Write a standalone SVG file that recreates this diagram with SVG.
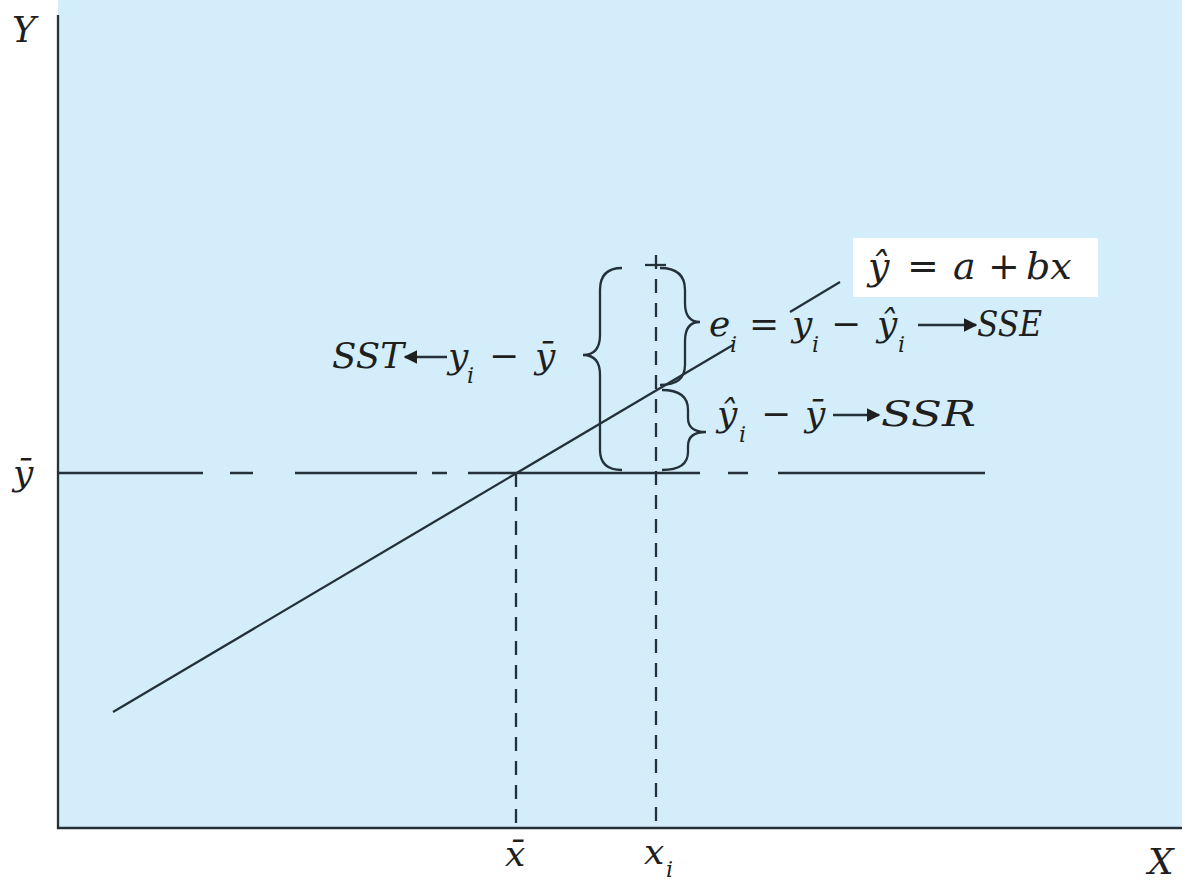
<svg xmlns="http://www.w3.org/2000/svg" width="1185" height="882" viewBox="0 0 1185 882">
<defs>
<style>
.ln{stroke:#25313a;stroke-width:2.3;fill:none}
.ds{stroke:#25313a;stroke-width:2.3;fill:none;stroke-dasharray:14 10}
.t{font-family:"DejaVu Serif","Liberation Serif",serif;font-style:italic;font-size:36px;fill:#1f1f1f}
.u{font-family:"DejaVu Serif","Liberation Serif",serif;font-size:36px;fill:#1f1f1f}
.s{font-family:"DejaVu Serif","Liberation Serif",serif;font-style:italic;font-size:22px;fill:#1f1f1f}
.b{font-size:38px}
</style>
<marker id="ah" viewBox="0 0 10 10" refX="9" refY="5" markerWidth="6" markerHeight="6" orient="auto-start-reverse" markerUnits="strokeWidth">
<path d="M0,0 L10,5 L0,10 Z" fill="#1f1f1f"/>
</marker>
</defs>
<rect x="0" y="0" width="1185" height="882" fill="#ffffff"/>
<rect x="58" y="0" width="1124" height="828" fill="#d3eefa"/>

<g id="axes">
<line class="ln" x1="58" y1="15" x2="58" y2="829"/>
<line class="ln" x1="57" y1="828" x2="1182" y2="828"/>
<text class="t" x="12" y="42">Y</text>
<text class="t" x="1148" y="874">X</text>
<text class="t" x="13" y="485">ȳ</text>
<text class="t" x="505" y="866">x̄</text>
<text class="t" x="644" y="864">x</text><text class="s" x="666" y="877">i</text>
</g>

<g id="connectors">
<path class="ln" d="M58,473 H203 M230,473 H253 M295,473 H417 M432,473 H447 M468,473 H700 M728,473 H748 M778,473 H985"/>
<line class="ds" x1="516" y1="473" x2="516" y2="828"/>
<line class="ds" x1="656" y1="255" x2="656" y2="828"/>
<line class="ln" x1="645" y1="265" x2="666" y2="265"/>
<line class="ln" x1="113" y1="712" x2="733" y2="345"/>
<line class="ln" x1="790" y1="312" x2="840" y2="282"/>
</g>

<g id="braces">
<path class="ln" d="M622,268 Q600,268 600,290 L600,335 Q600,355 583,355 Q600,355 600,375 L600,450 Q600,470 622,470"/>
<path class="ln" d="M660,268 Q685,268 685,290 L685,303 Q685,322 700,322 Q685,322 685,341 L685,365 Q685,385 660,385"/>
<path class="ln" d="M662,390 Q688,390 688,410 L688,418 Q688,432 706,432 Q688,432 688,446 L688,452 Q688,470 662,470"/>
</g>

<g id="regression-label">
<rect x="853" y="238" width="245" height="59" fill="#ffffff"/>
<text class="t b" x="868" y="279">ŷ</text>
<text class="u b" x="907" y="279">=</text>
<text class="t b" x="953" y="279">a</text>
<text class="u b" x="988" y="279">+</text>
<text class="t b" x="1026" y="279">bx</text>
</g>

<g id="sst-label">
<text class="t" x="332" y="368" textLength="72" lengthAdjust="spacingAndGlyphs">SST</text>
<line class="ln" x1="447" y1="357" x2="405" y2="357" stroke-width="2.2" marker-end="url(#ah)"/>
<text class="t" x="448" y="368">y</text><text class="s" x="467" y="383">i</text>
<text class="u" x="489" y="368">−</text>
<text class="t" x="535" y="368">ȳ</text>
</g>

<g id="sse-label">
<text class="t" x="709" y="336">e</text><text class="s" x="730" y="352">i</text>
<text class="u" x="749" y="336">=</text>
<text class="t" x="792" y="336">y</text><text class="s" x="812" y="352">i</text>
<text class="u" x="831" y="336">−</text>
<text class="t" x="877" y="336">ŷ</text><text class="s" x="898" y="352">i</text>
<line class="ln" x1="918" y1="325" x2="976" y2="325" stroke-width="2.2" marker-end="url(#ah)"/>
<text class="t" x="977" y="336" textLength="65" lengthAdjust="spacingAndGlyphs">SSE</text>
</g>

<g id="ssr-label">
<text class="t" x="717" y="426">ŷ</text><text class="s" x="739" y="442">i</text>
<text class="u" x="761" y="426">−</text>
<text class="t" x="805" y="426">ȳ</text>
<line class="ln" x1="833" y1="415" x2="879" y2="415" stroke-width="2.2" marker-end="url(#ah)"/>
<text class="t" x="881" y="426" textLength="95" lengthAdjust="spacingAndGlyphs">SSR</text>
</g>
</svg>
